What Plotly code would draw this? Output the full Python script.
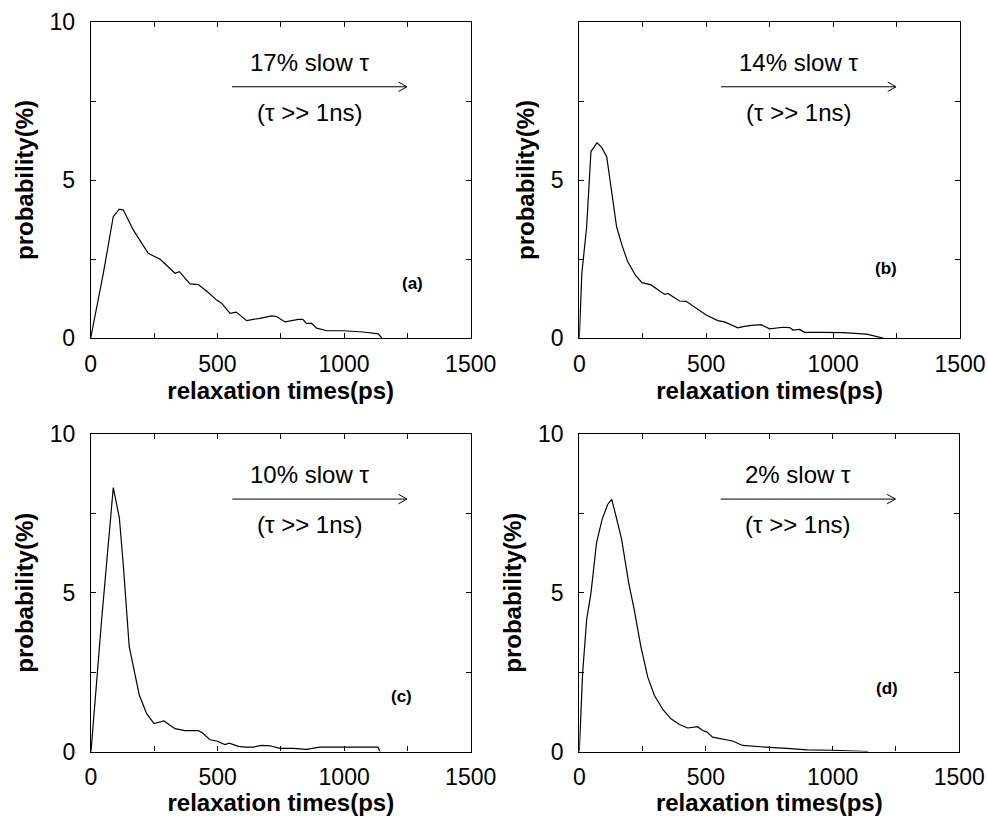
import plotly.graph_objects as go

# ---------------- data ----------------
xa = [0, 50, 89, 113, 129, 168, 227, 274, 333, 350, 392, 425, 464, 497, 517, 550, 574, 616, 642, 668,
      714, 734, 767, 820, 837, 852, 872, 892, 932, 997, 1076, 1135, 1149]
ya = [0, 2.05, 3.84, 4.08, 4.05, 3.42, 2.68, 2.49, 2.05, 2.10, 1.71, 1.69, 1.44, 1.20, 1.10, 0.78, 0.82, 0.55, 0.59, 0.62,
      0.70, 0.68, 0.51, 0.59, 0.59, 0.46, 0.46, 0.31, 0.23, 0.23, 0.19, 0.13, 0]

xb = [0, 10, 29, 46, 70, 88, 108, 125, 147, 168, 191, 221, 247, 283, 336, 349, 395, 421, 454, 500,
      546, 572, 625, 645, 678, 717, 750, 803, 829, 842, 868, 888, 961, 1040, 1132, 1197]
yb = [0, 2.05, 3.52, 5.90, 6.18, 6.03, 5.74, 4.79, 3.52, 2.94, 2.41, 1.99, 1.75, 1.68, 1.38, 1.41, 1.17, 1.16, 0.97, 0.73,
      0.55, 0.51, 0.32, 0.36, 0.40, 0.42, 0.29, 0.34, 0.33, 0.25, 0.27, 0.18, 0.18, 0.17, 0.12, 0]

xc = [0, 42, 88, 112, 128, 151, 191, 220, 249, 288, 332, 371, 424, 441, 470, 496, 529, 546, 582, 608,
      641, 674, 707, 746, 799, 851, 904, 957, 1009, 1134, 1141]
yc = [0, 4.15, 8.31, 7.36, 5.83, 3.30, 1.77, 1.19, 0.88, 0.96, 0.72, 0.66, 0.66, 0.58, 0.37, 0.33, 0.22, 0.26, 0.16, 0.14,
      0.14, 0.19, 0.18, 0.10, 0.10, 0.07, 0.14, 0.14, 0.14, 0.14, 0]

xd = [0, 13, 29, 46, 68, 90, 112, 128, 145, 167, 195, 217, 243, 270, 296, 332, 362, 395, 428, 447,
      467, 487, 503, 526, 559, 605, 645, 697, 750, 820, 900, 1000, 1100, 1140]
yd = [0, 2.46, 4.15, 4.99, 6.57, 7.31, 7.78, 7.94, 7.41, 6.68, 5.31, 4.46, 3.30, 2.35, 1.77, 1.30, 1.03, 0.85, 0.74, 0.77,
      0.78, 0.66, 0.62, 0.45, 0.40, 0.33, 0.19, 0.15, 0.13, 0.10, 0.05, 0.04, 0.02, 0]

panel_x = [xa, xb, xc, xd]
panel_y = [ya, yb, yc, yd]
slow_text = ["17% slow τ", "14% slow τ", "10% slow τ", "2% slow τ"]
panel_tag = ["(a)", "(b)", "(c)", "(d)"]
tag_pos = [(1271, 1.71), (1207, 2.2), (1227, 1.73), (1216, 2.0)]

x_ticks = [0, 500, 1000, 1500]
y_ticks = [0, 5, 10]
x_title = "relaxation times(ps)"
y_title = "probability(%)"

# ---------------- layout geometry (pixels) ----------------
W, H = 988, 816
boxes = [  # x0, x1, ytop, ybottom in pixels
    (90.7, 470.7, 22, 338),
    (579.3, 960.0, 22, 338),
    (91.0, 470.7, 434, 751.5),
    (579.3, 959.3, 434, 751.5),
]

FONT = "Arial, Liberation Sans, Helvetica, sans-serif"

fig = go.Figure()
layout = dict(
    width=W, height=H,
    margin=dict(l=0, r=0, t=0, b=0, autoexpand=False),
    paper_bgcolor="white", plot_bgcolor="white",
    showlegend=False,
    font=dict(family=FONT, color="black", size=24),
)

annotations = []
shapes = []

for i in range(4):
    n = "" if i == 0 else str(i + 1)
    xa_name, ya_name = "xaxis" + n, "yaxis" + n
    xr, yr = "x" + n, "y" + n
    x0, x1, yt, yb_ = boxes[i]
    fig.add_trace(go.Scatter(x=panel_x[i], y=panel_y[i], mode="lines",
                             line=dict(color="black", width=1.2),
                             xaxis=xr, yaxis=yr, hoverinfo="skip"))
    common = dict(showline=True, linecolor="black", linewidth=1.2, mirror="allticks",
                  ticks="inside", ticklen=5, tickcolor="black", tickwidth=1,
                  showgrid=False, zeroline=False, fixedrange=True, automargin=False,
                  tickfont=dict(family=FONT, size=23, color="black"))
    layout[xa_name] = dict(
        domain=[x0 / W, x1 / W], anchor=yr, range=[0, 1500],
        tickvals=[0, 250, 500, 750, 1000, 1250, 1500],
        ticktext=["0", "", "500", "", "1000", "", "1500"],
        ticklabelstandoff=5,
        title=dict(text="<b>" + x_title + "</b>", font=dict(family=FONT, size=24, color="black"), standoff=5),
        **common)
    ytext = ["0", "", "5", "", "10"] if i != 1 else ["0", "", "5", "", ""]
    layout[ya_name] = dict(
        domain=[1 - yb_ / H, 1 - yt / H], anchor=xr, range=[0, 10],
        tickvals=[0, 2.5, 5, 7.5, 10], ticktext=ytext,
        ticklabelstandoff=10,
        title=dict(text="<b>" + y_title + "</b>", font=dict(family=FONT, size=24, color="black"), standoff=9),
        **common)

    # arrow
    ay = 7.95
    shapes.append(dict(type="line", xref=xr, yref=yr, x0=558, x1=1248, y0=ay, y1=ay,
                       line=dict(color="black", width=1)))
    shapes.append(dict(type="line", xref=xr, yref=yr, x0=1248, x1=1215, y0=ay, y1=ay + 0.15,
                       line=dict(color="black", width=1)))
    shapes.append(dict(type="line", xref=xr, yref=yr, x0=1248, x1=1215, y0=ay, y1=ay - 0.15,
                       line=dict(color="black", width=1)))
    annotations.append(dict(x=865, y=8.72, xref=xr, yref=yr, text=slow_text[i], showarrow=False,
                            font=dict(family=FONT, size=24, color="black")))
    annotations.append(dict(x=865, y=7.14, xref=xr, yref=yr, text="(τ >> 1ns)", showarrow=False,
                            font=dict(family=FONT, size=24, color="black")))
    annotations.append(dict(x=tag_pos[i][0], y=tag_pos[i][1], xref=xr, yref=yr,
                            text="<b>" + panel_tag[i] + "</b>", showarrow=False,
                            font=dict(family=FONT, size=17, color="black")))

layout["annotations"] = annotations
layout["shapes"] = shapes
fig.update_layout(**layout)
fig.write_html("out.html")
